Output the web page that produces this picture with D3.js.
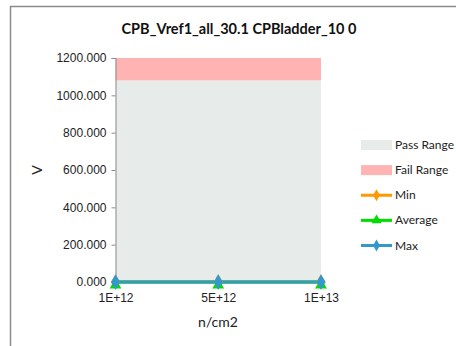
<!DOCTYPE html>
<html>
<head>
<meta charset="utf-8">
<script src="https://cdn.jsdelivr.net/npm/d3@7/dist/d3.min.js"></script>
<style>
  html, body { margin: 0; padding: 0; background: #fff; }
  svg { display: block; font-family: Lato, "Open Sans", "Liberation Sans", sans-serif; }
</style>
</head>
<body>
<svg id="chart" width="456" height="346"></svg>
<script>
// Fluence points and measured values
const categories = ["1E+12", "5E+12", "1E+13"];
const minValues = [0, 0, 0];
const avgValues = [0, 0, 0];
const maxValues = [0, 0, 0];
// Acceptance band limits
const passLimit = 1080;
const axisMax = 1200;
const yTicks = [0, 200, 400, 600, 800, 1000, 1200];
const legendLabels = ["Pass Range", "Fail Range", "Min", "Average", "Max"];

const svg = d3.select("#chart");

// Outer chart frame
svg.append("rect")
  .attr("x", 10.5).attr("y", 6.5)
  .attr("width", 460).attr("height", 360)
  .attr("fill", "#fff").attr("stroke", "#8c8c8c").attr("stroke-width", 1.5);

const plot = { left: 115.5, right: 321, top: 58, bottom: 282 };

const x = d3.scalePoint().domain(categories).range([plot.left, plot.right]);
const y = d3.scaleLinear().domain([0, axisMax]).range([plot.bottom, plot.top]);

// Pass and fail bands
svg.append("rect")
  .attr("x", plot.left).attr("width", plot.right - plot.left)
  .attr("y", y(passLimit)).attr("height", y(0) - y(passLimit))
  .attr("fill", "#e7ebea");
svg.append("rect")
  .attr("x", plot.left).attr("width", plot.right - plot.left)
  .attr("y", y(axisMax)).attr("height", y(passLimit) - y(axisMax))
  .attr("fill", "#ffb3b3");

// Y axis
const yAxis = svg.append("g")
  .attr("transform", `translate(${plot.left},0)`)
  .call(d3.axisLeft(y).tickValues(yTicks).tickSize(4).tickPadding(5)
    .tickFormat(d3.format(".3f")));
yAxis.select(".domain").attr("stroke", "#8c8c8c");
yAxis.selectAll(".tick line").attr("stroke", "#8c8c8c");
yAxis.selectAll("text").attr("font-size", 12).attr("fill", "#222");

// X axis labels
const xAxis = svg.append("g")
  .attr("transform", `translate(0,${plot.bottom})`)
  .call(d3.axisBottom(x).tickSize(0).tickPadding(11));
xAxis.select(".domain").remove();
xAxis.selectAll("text").attr("font-size", 12).attr("fill", "#222");

// Series lines and markers
const series = [
  { name: "Min", values: minValues, color: "#ff9900", symbol: d3.symbolDiamond },
  { name: "Average", values: avgValues, color: "#00dd00", symbol: d3.symbolTriangle },
  { name: "Max", values: maxValues, color: "#3399cc", symbol: d3.symbolDiamond }
];
const line = d3.line().x((d, i) => x(categories[i])).y(d => y(d));
series.forEach(s => {
  svg.append("path")
    .datum(s.values)
    .attr("d", line)
    .attr("fill", "none")
    .attr("stroke", s.color)
    .attr("stroke-width", 3);
});
series.forEach(s => {
  svg.selectAll(null)
    .data(s.values)
    .enter().append("path")
    .attr("transform", (d, i) => `translate(${x(categories[i])},${y(d) + (s.symbol === d3.symbolTriangle ? 3 : 0)})`)
    .attr("d", d3.symbol().type(s.symbol).size(s.symbol === d3.symbolTriangle ? 60 : 70))
    .attr("fill", s.color);
});

// Title and axis titles
svg.append("text")
  .attr("x", 239).attr("y", 34)
  .attr("text-anchor", "middle")
  .attr("font-size", 14.5).attr("font-weight", "bold").attr("fill", "#111")
  .text("CPB_Vref1_all_30.1 CPBladder_10 0");
svg.append("text")
  .attr("transform", "translate(42,170) rotate(-90)")
  .attr("text-anchor", "middle")
  .attr("font-size", 14).attr("fill", "#222")
  .text("V");
svg.append("text")
  .attr("x", 218).attr("y", 327)
  .attr("text-anchor", "middle")
  .attr("font-size", 14).attr("fill", "#222")
  .text("n/cm2");

// Legend
const legend = svg.append("g");
const legendY = d3.scalePoint().domain(legendLabels).range([145, 245.5]);
const swatchX = 361, swatchW = 31;
legend.append("rect").attr("x", swatchX).attr("y", legendY("Pass Range") - 5)
  .attr("width", swatchW).attr("height", 10).attr("fill", "#e7ebea");
legend.append("rect").attr("x", swatchX).attr("y", legendY("Fail Range") - 5)
  .attr("width", swatchW).attr("height", 10).attr("fill", "#ffb3b3");
series.forEach(s => {
  const ly = legendY(s.name);
  legend.append("line")
    .attr("x1", swatchX).attr("x2", swatchX + swatchW)
    .attr("y1", ly).attr("y2", ly)
    .attr("stroke", s.color).attr("stroke-width", 3);
  legend.append("path")
    .attr("transform", `translate(${swatchX + swatchW / 2},${ly})`)
    .attr("d", d3.symbol().type(s.symbol).size(s.symbol === d3.symbolTriangle ? 45 : 40))
    .attr("fill", s.color);
});
legend.selectAll("text.lbl")
  .data(legendLabels)
  .enter().append("text")
  .attr("class", "lbl")
  .attr("x", swatchX + swatchW + 3)
  .attr("y", d => legendY(d) + 4)
  .attr("font-size", 12).attr("fill", "#222")
  .text(d => d);
</script>
</body>
</html>
